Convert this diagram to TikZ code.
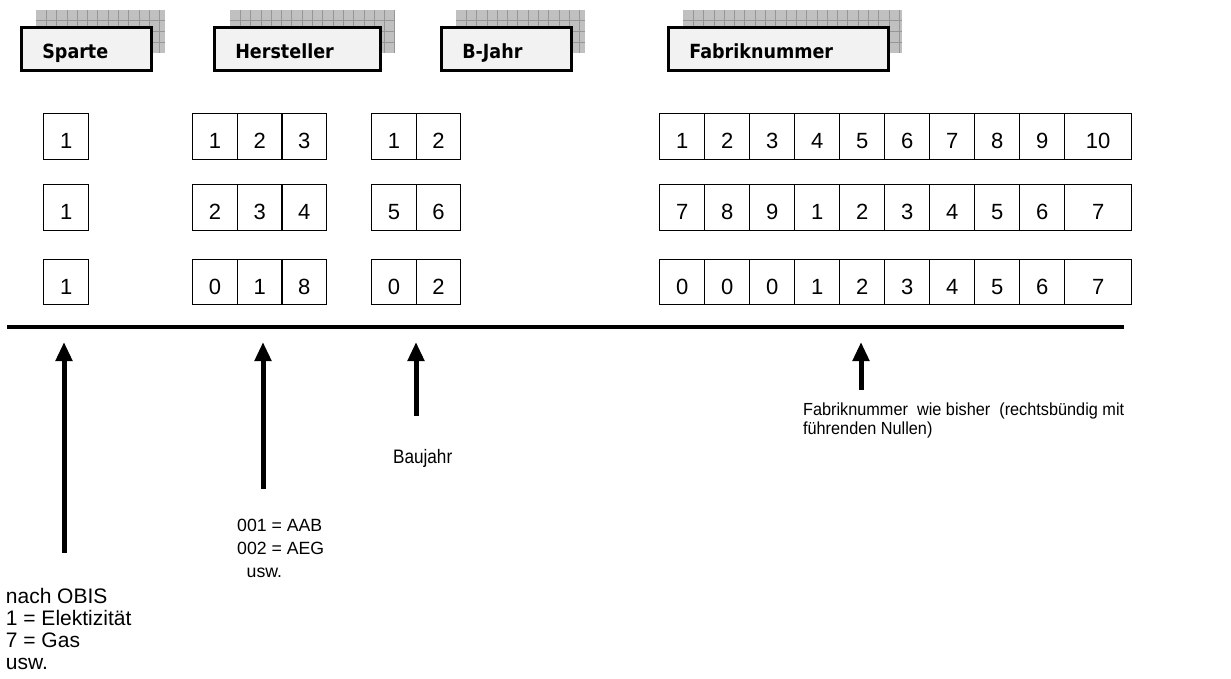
\documentclass[tikz,border=0pt]{standalone}
\usepackage{fontspec}
\setmainfont{Liberation Sans}
\newfontfamily\hdrfont[FakeStretch=0.9]{DejaVu Sans}
\newfontfamily\narrowA[FakeStretch=0.88]{Liberation Sans}
\newfontfamily\narrowB[FakeStretch=0.93]{Liberation Sans}
\usetikzlibrary{arrows.meta}
\definecolor{shgray}{RGB}{192,192,192}
\definecolor{shline}{RGB}{150,150,150}
\definecolor{hdrfill}{RGB}{242,242,242}
\newcommand\shadowrect[2]{%
  \fill[shgray] (#1,10) rectangle (#2,53);
  \begin{scope}
    \clip (#1,10) rectangle (#2,53);
    \foreach \k in {1,...,22} {\draw[shline, line width=0.8pt] ({#1+\k*10.3},10) -- ({#1+\k*10.3},53);}
    \foreach \k in {1,2,3} {\draw[shline, line width=0.8pt] (#1,{10+\k*10.7}) -- (#2,{10+\k*10.7});}
  \end{scope}
}
\begin{document}
\begin{tikzpicture}[x=1pt,y=-1pt,
  hdrbox/.style={draw=black, line width=2.6pt, fill=hdrfill, anchor=north west, minimum height=43pt,
    inner xsep=21pt, inner ysep=0pt, align=left, text height=19pt, text depth=0pt,
    font=\hdrfont\bfseries\fontsize{19.5}{22}\selectfont},
  cell/.style={draw=black, line width=1.3pt, anchor=north west, minimum height=46pt, inner sep=0pt,
    text height=24pt, text depth=0pt, font=\fontsize{22}{26}\selectfont},
  lbl/.style={anchor=north west, inner sep=0pt, align=left},
  bigarrow/.style={line width=5pt, -{Triangle[width=16pt,length=19pt]}},
]
\useasboundingbox (0,0) rectangle (1231,678);

% header shadows
\shadowrect{36}{165}
\shadowrect{230}{395}
\shadowrect{456}{585}
\shadowrect{683}{902}

% header boxes
\node[hdrbox, text width=88pt]  (hSparte) at (20,26)  {Sparte};
\node[hdrbox, text width=124pt] (hHerst)  at (213,26) {Hersteller};
\node[hdrbox, text width=88pt]  (hBJahr)  at (440,26) {B-Jahr};
\node[hdrbox, text width=178pt] (hFabrik) at (667,26) {Fabriknummer};

% Sparte cells
\node[cell, minimum width=45pt] (s1) at (43,113) {1};
\node[cell, minimum width=45pt] (s2) at (43,184) {1};
\node[cell, minimum width=45pt, minimum height=45pt] (s3) at (43,259) {1};

% Hersteller cells
\foreach \d [count=\i] in {1,2,3}
  \node[cell, minimum width=44.67pt] (ha\i) at ({192+(\i-1)*44.67},113) {\d};
\foreach \d [count=\i] in {2,3,4}
  \node[cell, minimum width=44.67pt] (hb\i) at ({192+(\i-1)*44.67},184) {\d};
\foreach \d [count=\i] in {0,1,8}
  \node[cell, minimum width=44.67pt, minimum height=45pt] (hc\i) at ({192+(\i-1)*44.67},259) {\d};

% B-Jahr cells
\foreach \d [count=\i] in {1,2}
  \node[cell, minimum width=44.5pt] (ba\i) at ({371+(\i-1)*44.5},113) {\d};
\foreach \d [count=\i] in {5,6}
  \node[cell, minimum width=44.5pt] (bb\i) at ({371+(\i-1)*44.5},184) {\d};
\foreach \d [count=\i] in {0,2}
  \node[cell, minimum width=44.5pt, minimum height=45pt] (bc\i) at ({371+(\i-1)*44.5},259) {\d};

% Fabriknummer cells
\foreach \d [count=\i] in {1,2,3,4,5,6,7,8,9}
  \node[cell, minimum width=45pt] (fa\i) at ({659+(\i-1)*45},113) {\d};
\node[cell, minimum width=67pt] (fa10) at (1064,113) {10};
\foreach \d [count=\i] in {7,8,9,1,2,3,4,5,6}
  \node[cell, minimum width=45pt] (fb\i) at ({659+(\i-1)*45},184) {\d};
\node[cell, minimum width=67pt] (fb10) at (1064,184) {7};
\foreach \d [count=\i] in {0,0,0,1,2,3,4,5,6}
  \node[cell, minimum width=45pt, minimum height=45pt] (fc\i) at ({659+(\i-1)*45},259) {\d};
\node[cell, minimum width=67pt, minimum height=45pt] (fc10) at (1064,259) {7};

% thick line
\coordinate (L0) at (7,327);
\coordinate (L1) at (1124,327);
\draw[line width=4pt] (L0) -- (L1);

% arrows
\coordinate (aS0) at (64,553);  \coordinate (aS1) at (64,342);
\coordinate (aH0) at (263,489); \coordinate (aH1) at (263,342);
\coordinate (aB0) at (416,416); \coordinate (aB1) at (416,342);
\coordinate (aF0) at (861,390); \coordinate (aF1) at (861,342);
\draw[bigarrow] (aS0) -- (aS1);
\draw[bigarrow] (aH0) -- (aH1);
\draw[bigarrow] (aB0) -- (aB1);
\draw[bigarrow] (aF0) -- (aF1);

% labels
\node[lbl, font=\fontsize{21}{22}\selectfont] (tS) at (5.7,588)
  {nach OBIS\\1 = Elektizität\\7 = Gas\\usw.};
\node[lbl, font=\fontsize{17.7}{23}\selectfont] (tH) at (237,519.3)
  {001 = AAB\\002 = AEG\\\hspace*{9.5pt}usw.};
\node[lbl, font=\narrowA\fontsize{19.5}{22}\selectfont] (tB) at (392.9,448.8) {Baujahr};
\node[lbl, font=\narrowB\fontsize{17.5}{19.5}\selectfont] (tF) at (802.9,402.2)
  {Fabriknummer\ \ wie bisher\ \ (rechtsbündig mit\\führenden Nullen)};
\end{tikzpicture}
\end{document}
